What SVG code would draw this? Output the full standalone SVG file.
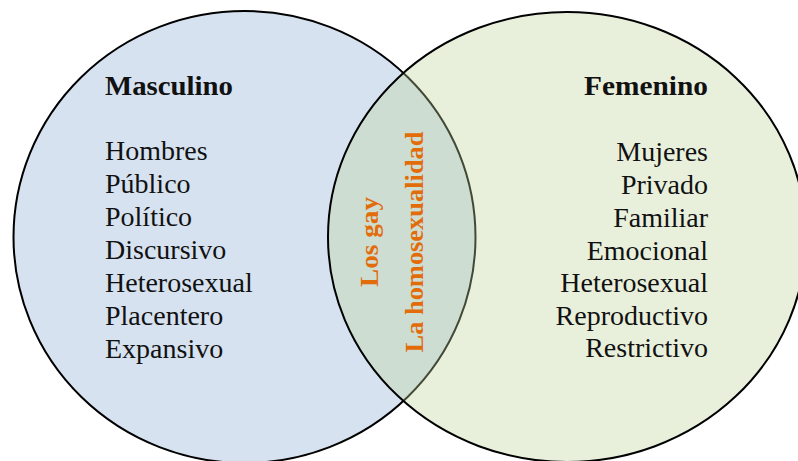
<svg xmlns="http://www.w3.org/2000/svg" width="798" height="461" viewBox="0 0 798 461">
<style>
.lbl{font-family:"Liberation Serif","Times New Roman",serif;font-size:28px;fill:#111}
.ttl{font-family:"Liberation Serif","Times New Roman",serif;font-size:28px;font-weight:bold;fill:#111}
.mid{font-family:"Liberation Serif","Times New Roman",serif;font-size:26px;font-weight:bold;fill:#E36C0A;text-anchor:middle}
.r{text-anchor:end}
</style>
<rect width="798" height="461" fill="#ffffff"/>
<g id="masculino">
<ellipse cx="244.5" cy="237" rx="231" ry="226" fill="#D6E2F0" stroke="#000" stroke-width="2"/>
<text class="ttl" x="105" y="94.5" textLength="128" lengthAdjust="spacingAndGlyphs">Masculino</text>
<text class="lbl" x="105" y="160">Hombres</text>
<text class="lbl" x="105" y="193">Público</text>
<text class="lbl" x="105" y="226">Político</text>
<text class="lbl" x="105" y="259">Discursivo</text>
<text class="lbl" x="105" y="292">Heterosexual</text>
<text class="lbl" x="105" y="325">Placentero</text>
<text class="lbl" x="105" y="358">Expansivo</text>
</g>
<g id="femenino">
<ellipse cx="567" cy="237" rx="239" ry="225" fill="#BDD49B" fill-opacity="0.35" stroke="#000" stroke-width="2"/>
<text class="ttl r" x="708" y="95" textLength="124" lengthAdjust="spacingAndGlyphs">Femenino</text>
<text class="lbl r" x="708" y="161">Mujeres</text>
<text class="lbl r" x="708" y="194">Privado</text>
<text class="lbl r" x="708" y="227">Familiar</text>
<text class="lbl r" x="708" y="260">Emocional</text>
<text class="lbl r" x="708" y="292">Heterosexual</text>
<text class="lbl r" x="708" y="325">Reproductivo</text>
<text class="lbl r" x="708" y="357">Restrictivo</text>
</g>
<g id="interseccion">
<text class="mid" transform="translate(378,242) rotate(-90)" textLength="90" lengthAdjust="spacingAndGlyphs">Los gay</text>
<text class="mid" transform="translate(423,242) rotate(-90)" textLength="221" lengthAdjust="spacingAndGlyphs">La homosexualidad</text>
</g>
<g id="connectors"/>
</svg>
